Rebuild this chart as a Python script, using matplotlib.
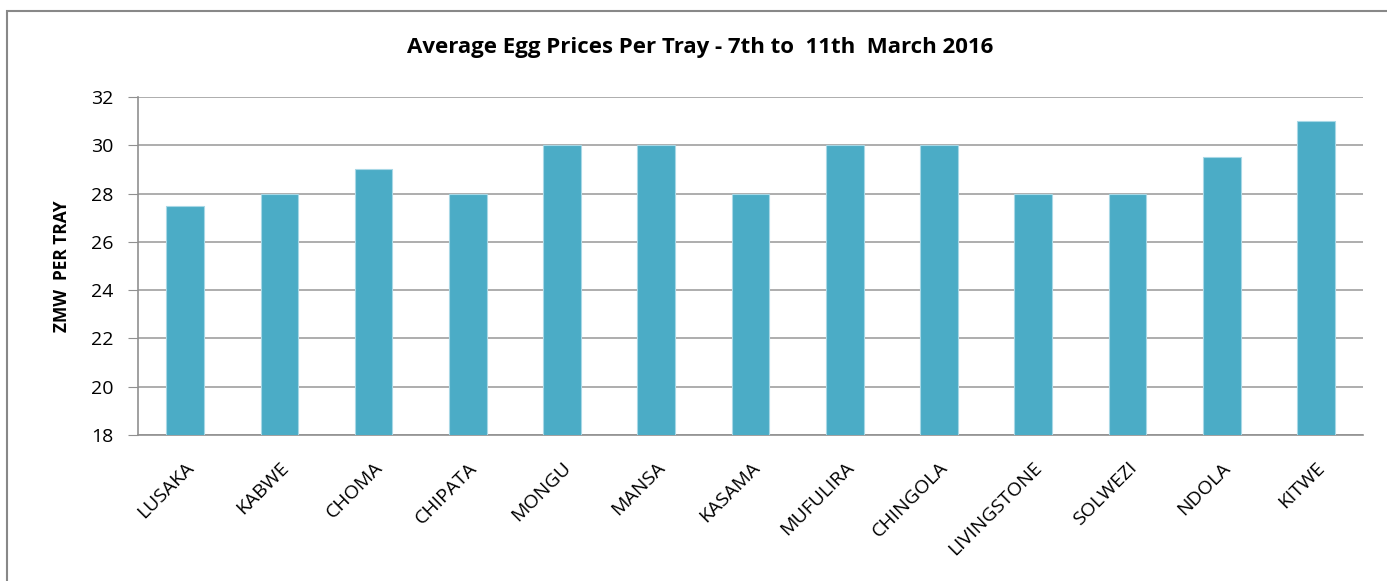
import matplotlib.pyplot as plt
from matplotlib.patches import Rectangle

towns = ['LUSAKA', 'KABWE', 'CHOMA', 'CHIPATA', 'MONGU', 'MANSA', 'KASAMA',
         'MUFULIRA', 'CHINGOLA', 'LIVINGSTONE', 'SOLWEZI', 'NDOLA', 'KITWE']
prices = [27.5, 28, 29, 28, 30, 30, 28, 30, 30, 28, 28, 29.5, 31]
yticks = [18, 20, 22, 24, 26, 28, 30, 32]

plt.rcParams['font.family'] = ['Open Sans', 'DejaVu Sans']

fig = plt.figure(figsize=(13.87, 5.81), dpi=100)
ax = fig.add_axes([0.0995, 0.2513, 0.8832, 0.5817])

# outer chart frame (runs off right and bottom edges)
fig.patches.append(Rectangle((7 / 1387, -0.05), 1.1, 1 - 11 / 581 + 0.05,
                             transform=fig.transFigure, fill=False,
                             edgecolor='#888888', linewidth=1.5))

x = range(len(towns))
ax.bar(x, prices, width=0.4, color='#4BACC6', edgecolor='#A8D8E6',
       linewidth=0.8, zorder=3)
ax.set_xlim(-0.5, len(towns) - 0.5)
ax.set_ylim(18, 32)
ax.set_yticks(yticks)
ax.set_xticks(list(x))
ax.set_xticklabels(towns, rotation=45, ha='right', rotation_mode='anchor',
                   fontsize=14)
ax.tick_params(axis='x', length=0, pad=17)
ax.tick_params(axis='y', length=7, color='#909090', labelsize=14, pad=11)
ax.grid(axis='y', color='#A0A0A0', linewidth=1.2, zorder=0)

for s in ['top', 'right']:
    ax.spines[s].set_visible(False)
for s in ['left', 'bottom']:
    ax.spines[s].set_color('#909090')
    ax.spines[s].set_linewidth(1.2)

ax.set_ylabel('ZMW  PER TRAY', fontsize=12.5, fontweight='bold', labelpad=14)
fig.text(0.505, 1 - 48 / 581, 'Average Egg Prices Per Tray - 7th to  11th  March 2016',
         ha='center', va='center', fontsize=16, fontweight='bold')

fig.savefig('out.png', dpi=100)
